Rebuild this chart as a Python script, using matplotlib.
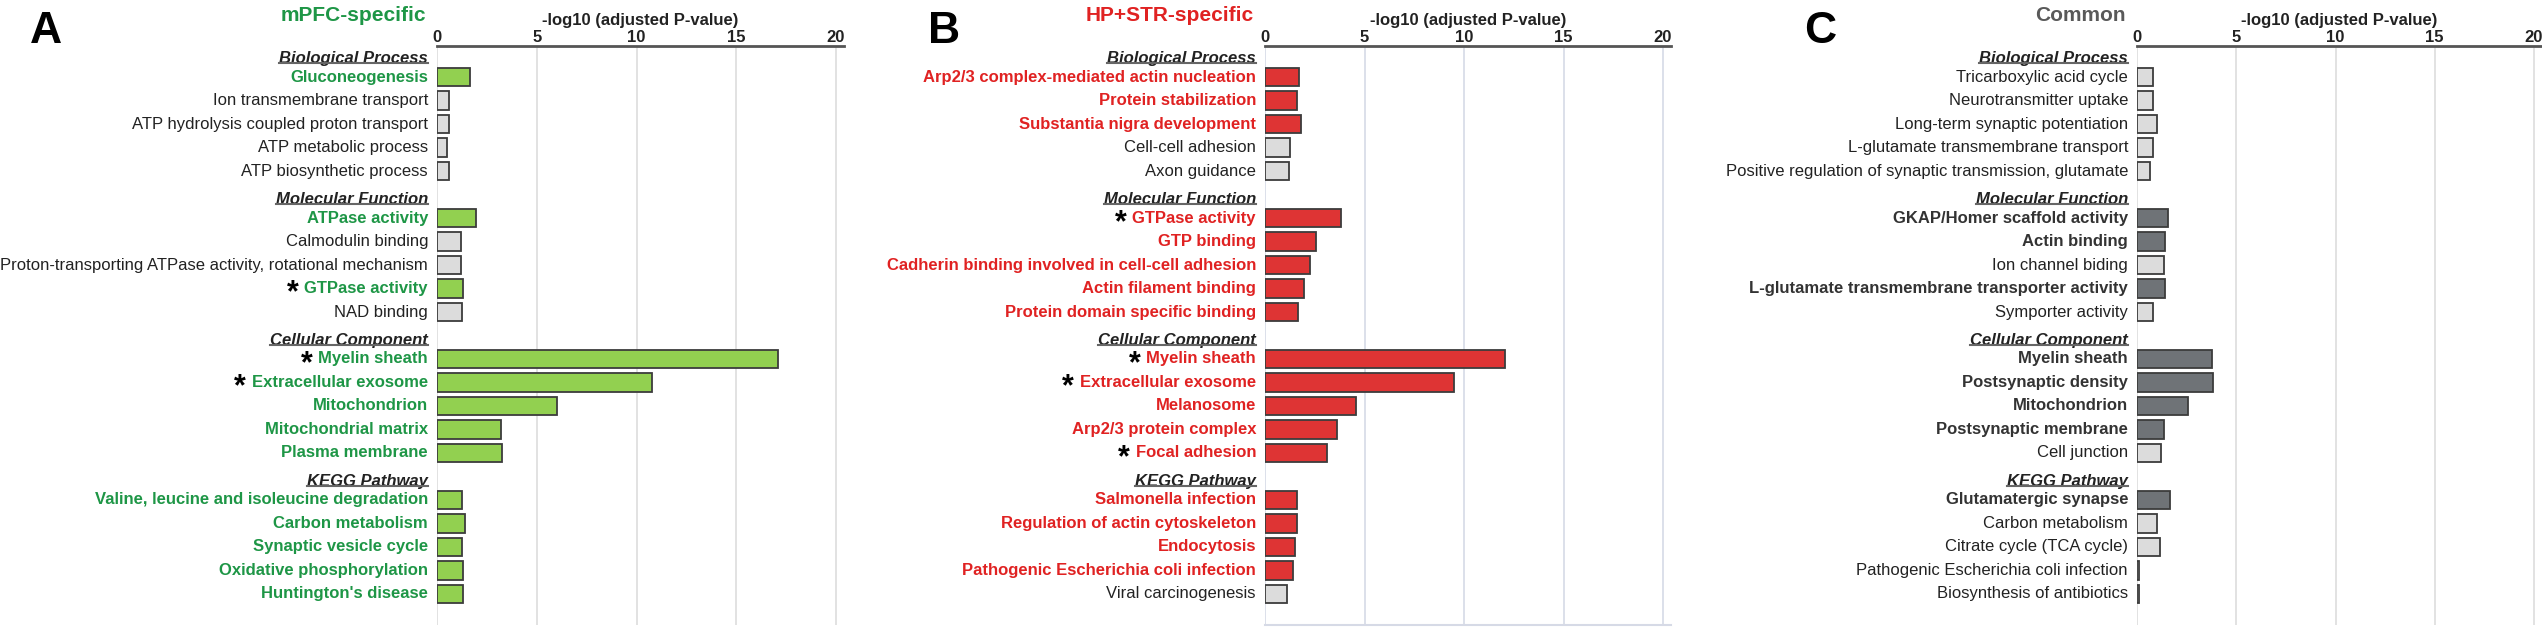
import matplotlib.pyplot as plt
from matplotlib.transforms import offset_copy
from matplotlib.lines import Line2D

plt.rcParams['font.family'] = ['Liberation Sans', 'DejaVu Sans']
plt.rcParams['mathtext.fontset'] = 'custom'
plt.rcParams['mathtext.rm'] = 'Liberation Sans'
plt.rcParams['mathtext.bf'] = 'Liberation Sans:bold'

W, H = 2542, 633

groups = ['Biological Process', 'Molecular Function', 'Cellular Component', 'KEGG Pathway']

# A: mPFC-specific
a_terms = ['Gluconeogenesis', 'Ion transmembrane transport', 'ATP hydrolysis coupled proton transport',
           'ATP metabolic process', 'ATP biosynthetic process',
           'ATPase activity', 'Calmodulin binding',
           'Proton-transporting ATPase activity, rotational mechanism', 'GTPase activity', 'NAD binding',
           'Myelin sheath', 'Extracellular exosome', 'Mitochondrion', 'Mitochondrial matrix', 'Plasma membrane',
           'Valine, leucine and isoleucine degradation', 'Carbon metabolism', 'Synaptic vesicle cycle',
           'Oxidative phosphorylation', "Huntington's disease"]
a_vals = [1.66, 0.58, 0.58, 0.5, 0.58,
          1.96, 1.21, 1.21, 1.3, 1.26,
          17.1, 10.76, 6.03, 3.2, 3.26,
          1.26, 1.39, 1.26, 1.3, 1.3]
a_hi = [1, 0, 0, 0, 0, 1, 0, 0, 1, 0, 1, 1, 1, 1, 1, 1, 1, 1, 1, 1]
a_star = [0, 0, 0, 0, 0, 0, 0, 0, 1, 0, 1, 1, 0, 0, 0, 0, 0, 0, 0, 0]

# B: HP+STR-specific
b_terms = ['Arp2/3 complex-mediated actin nucleation', 'Protein stabilization', 'Substantia nigra development',
           'Cell-cell adhesion', 'Axon guidance',
           'GTPase activity', 'GTP binding', 'Cadherin binding involved in cell-cell adhesion',
           'Actin filament binding', 'Protein domain specific binding',
           'Myelin sheath', 'Extracellular exosome', 'Melanosome', 'Arp2/3 protein complex', 'Focal adhesion',
           'Salmonella infection', 'Regulation of actin cytoskeleton', 'Endocytosis',
           'Pathogenic Escherichia coli infection', 'Viral carcinogenesis']
b_vals = [1.73, 1.59, 1.81, 1.26, 1.2,
          3.81, 2.58, 2.27, 1.95, 1.67,
          12.08, 9.48, 4.58, 3.64, 3.12,
          1.59, 1.59, 1.51, 1.42, 1.12]
b_hi = [1, 1, 1, 0, 0, 1, 1, 1, 1, 1, 1, 1, 1, 1, 1, 1, 1, 1, 1, 0]
b_star = [0, 0, 0, 0, 0, 1, 0, 0, 0, 0, 1, 1, 0, 0, 1, 0, 0, 0, 0, 0]

# C: Common
c_terms = ['Tricarboxylic acid cycle', 'Neurotransmitter uptake', 'Long-term synaptic potentiation',
           'L-glutamate transmembrane transport', 'Positive regulation of synaptic transmission, glutamate',
           'GKAP/Homer scaffold activity', 'Actin binding', 'Ion channel biding',
           'L-glutamate transmembrane transporter activity', 'Symporter activity',
           'Myelin sheath', 'Postsynaptic density', 'Mitochondrion', 'Postsynaptic membrane', 'Cell junction',
           'Glutamatergic synapse', 'Carbon metabolism', 'Citrate cycle (TCA cycle)',
           'Pathogenic Escherichia coli infection', 'Biosynthesis of antibiotics']
c_vals = [0.79, 0.79, 0.99, 0.79, 0.68,
          1.56, 1.4, 1.34, 1.4, 0.79,
          3.78, 3.84, 2.58, 1.34, 1.21,
          1.67, 0.99, 1.15, 0.08, 0.08]
c_hi = [0, 0, 0, 0, 0, 1, 1, 0, 1, 0, 1, 1, 1, 1, 0, 1, 0, 0, 0, 0]
c_star = [0] * 20

LIGHT = '#DCDCDC'
EDGE = '#3C3C3C'

fig = plt.figure(figsize=(W / 100, H / 100), dpi=100)

y_items = [g * 6 + 1 + k for g in range(4) for k in range(5)]
y_heads = [g * 6 + 0.2 for g in range(4)]

star_jobs = []
head_texts = []


def panel(x0, ppu, terms, vals, hi, star, fill, tcol, title, title_col, letter, letter_x,
          grid_col, frame=False, label_pad=9):
    ax = fig.add_axes([x0 / W, (H - 625) / H, 20.4 * ppu / W, 579 / H])
    colors = [fill if h else LIGHT for h in hi]
    ax.barh(y_items, vals, height=0.8, color=colors, edgecolor=EDGE, linewidth=1.3, zorder=3)
    ax.set_xlim(0, 20.4)
    ax.set_ylim(24.32, -0.32)
    ax.set_yticks([])
    ax.xaxis.tick_top()
    ax.set_xticks([0, 5, 10, 15, 20])
    ax.tick_params(axis='x', length=0, pad=1, labelsize=12, labelcolor='#222222')
    for t in ax.get_xticklabels():
        t.set_fontweight('bold')
    ax.xaxis.set_label_position('top')
    ax.set_xlabel('-log10 (adjusted P-value)', fontsize=12, fontweight='bold', color='#222222', labelpad=3)
    ax.grid(axis='x', color=grid_col, linewidth=1.2, zorder=0)
    ax.set_axisbelow(True)
    for s in ['left', 'bottom', 'right']:
        ax.spines[s].set_visible(False)
    ax.spines['top'].set_color('#555555')
    ax.spines['top'].set_linewidth(2)
    if frame:
        ax.spines['bottom'].set_visible(True)
        ax.spines['bottom'].set_color(grid_col)
        ax.spines['bottom'].set_linewidth(1.5)

    trans = offset_copy(ax.transData, fig=fig, x=-label_pad, y=0, units='dots')
    for term, y, h, s in zip(terms, y_items, hi, star):
        t = ax.text(0, y, term, transform=trans, ha='right', va='center', fontsize=12,
                    color=tcol if h else '#222222', fontweight='bold' if h else 'normal')
        if s:
            star_jobs.append((ax, t, y))
    for g, y in zip(groups, y_heads):
        t = ax.text(0, y, g, transform=trans, ha='right', va='center', fontsize=12,
                    color='#222222', fontweight='bold', fontstyle='italic')
        head_texts.append(t)

    title_x = x0 - label_pad - 2
    fig.text(title_x / W, (H - 21) / H, title, ha='right', va='baseline', fontsize=15,
             fontweight='bold', color=title_col)
    fig.text(letter_x / W, (H - 43) / H, letter, ha='left', va='baseline', fontsize=32,
             fontweight='bold', color='black')
    return ax


panel(437, 19.95, a_terms, a_vals, a_hi, a_star, '#92D050', '#1E9646', 'mPFC-specific', '#1E9646',
      'A', 30, '#DDDDDD')
panel(1265, 19.9, b_terms, b_vals, b_hi, b_star, '#DE3434', '#E02222', 'HP+STR-specific', '#E02222',
      'B', 928, '#D6DAE6', frame=True)
panel(2137, 19.85, c_terms, c_vals, c_hi, c_star, '#6F7377', '#333333', 'Common', '#595959',
      'C', 1804, '#DDDDDD')

fig.canvas.draw()
renderer = fig.canvas.get_renderer()

# stars in front of the highlighted terms
for ax, t, y in star_jobs:
    bb = t.get_window_extent(renderer)
    dx = bb.x0 - ax.transData.transform((0, y))[0] - 5
    tr = offset_copy(ax.transData, fig=fig, x=dx, y=-4, units='dots')
    ax.text(0, y, r'$\mathbf{*}$', transform=tr, ha='right', va='center', fontsize=22,
            color='black', zorder=5)

# underline the group headers
for t in head_texts:
    bb = t.get_window_extent(renderer)
    yline = bb.y0 + 2.5
    fig.add_artist(Line2D([bb.x0 / W, bb.x1 / W], [yline / H, yline / H], transform=fig.transFigure,
                          color='#666666', linewidth=1.5))

fig.savefig('out.png', dpi=100)
